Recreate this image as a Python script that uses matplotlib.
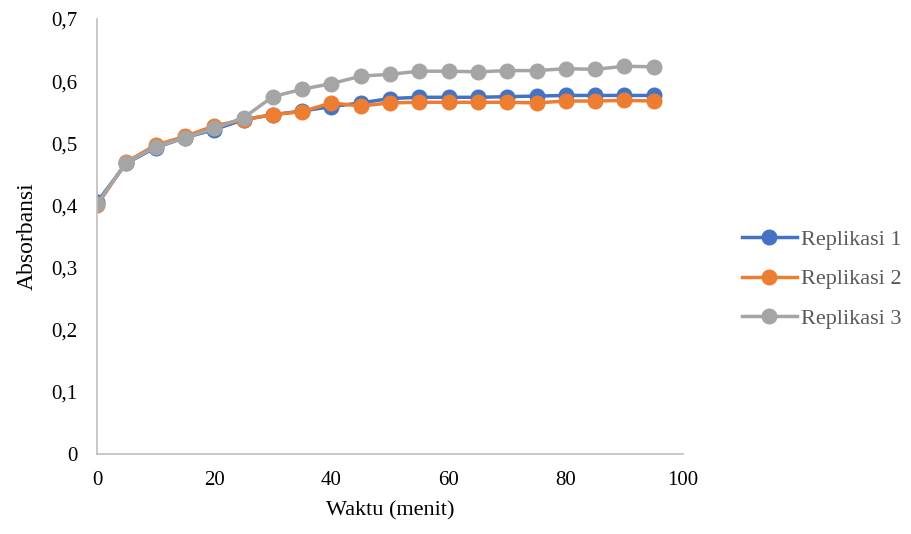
import matplotlib
matplotlib.use("Agg")
import matplotlib.pyplot as plt
from matplotlib.ticker import FuncFormatter

plt.rcParams['font.family'] = ['Liberation Serif', 'DejaVu Serif']

waktu = [0, 5, 10, 15, 20, 25, 30, 35, 40, 45, 50, 55, 60, 65, 70, 75, 80, 85, 90, 95]
rep1 = [0.405, 0.468, 0.493, 0.509, 0.522, 0.538, 0.546, 0.552, 0.559, 0.565, 0.572,
        0.574, 0.574, 0.574, 0.575, 0.576, 0.577, 0.577, 0.577, 0.577]
rep2 = [0.400, 0.470, 0.497, 0.511, 0.528, 0.538, 0.546, 0.551, 0.565, 0.560, 0.565,
        0.566, 0.566, 0.566, 0.566, 0.565, 0.568, 0.568, 0.569, 0.568]
rep3 = [0.402, 0.469, 0.494, 0.509, 0.524, 0.541, 0.575, 0.587, 0.596, 0.608, 0.611,
        0.616, 0.616, 0.615, 0.617, 0.617, 0.620, 0.619, 0.624, 0.623]
labels = ['Replikasi 1', 'Replikasi 2', 'Replikasi 3']
colors = ['#4472C4', '#ED7D31', '#A5A5A5']

fig = plt.figure(figsize=(9.11, 5.34), dpi=100)
ax = fig.add_axes([97/911, 1-454/534, (683-97)/911, (454-19)/534])

for ys, lab, c in zip([rep1, rep2, rep3], labels, colors):
    ax.plot(waktu, ys, color=c, lw=2.5, marker='o', markersize=10.5, label=lab)

ax.set_xlim(0, 100)
ax.set_ylim(0, 0.7)
ax.set_xticks(range(0, 101, 20))
ax.set_yticks([i/10 for i in range(8)])
ax.yaxis.set_major_formatter(FuncFormatter(lambda v, p: ('%g' % round(v, 1)).replace('.', ',')))
for s in ['top', 'right']:
    ax.spines[s].set_visible(False)
for s in ['left', 'bottom']:
    ax.spines[s].set_color('#bfbfbf')
    ax.spines[s].set_linewidth(1.2)
ax.tick_params(length=0, labelsize=15, colors='black')
ax.tick_params(axis='y', pad=14)
ax.tick_params(axis='x', pad=12)
ax.set_xlabel('Waktu (menit)', fontsize=16, labelpad=8)
ax.set_ylabel('Absorbansi', fontsize=17, labelpad=10)

leg = ax.legend(loc='center left', bbox_to_anchor=(1.066, 0.402), frameon=False,
                fontsize=16, handlelength=2.5, handletextpad=0.15, labelspacing=0.85)
for t in leg.get_texts():
    t.set_color('#595959')

fig.savefig('out.png', dpi=100)
